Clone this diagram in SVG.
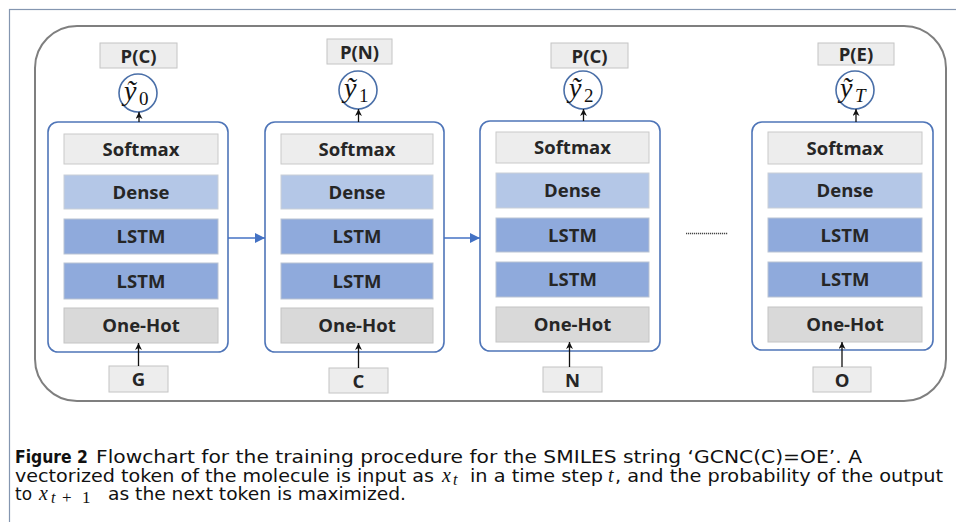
<svg xmlns="http://www.w3.org/2000/svg" width="956" height="522" viewBox="0 0 956 522">
<style>
.frame{fill:none;stroke:#8496b0;stroke-width:1.2}
.outer{fill:#fff;stroke:#7f7f7f;stroke-width:2}
.block{fill:#fff;stroke:#4f75b8;stroke-width:1.6}
.soft{fill:#ededed;stroke:#c9c9c9;stroke-width:1}
.dense{fill:#b4c7e7;stroke:#c9cfd8;stroke-width:1}
.lstm{fill:#8faadc;stroke:#b9c3d3;stroke-width:1}
.onehot{fill:#d9d9d9;stroke:#c4c4c4;stroke-width:1}
.tok{fill:#ededed;stroke:#c4c4c4;stroke-width:1}
.lbl{font-family:"Open Sans","Noto Sans",sans-serif;font-weight:700;font-size:18.5px;fill:#262626;text-anchor:middle}
.circ{fill:#fff;stroke:#4a6fa8;stroke-width:1.6}
.my{font-family:"Liberation Serif",serif;font-style:italic;font-size:28px;fill:#111}
.ms{font-family:"Liberation Serif",serif;font-size:19px;fill:#111}
.msi{font-family:"Liberation Serif",serif;font-style:italic;font-size:19px;fill:#111}
.blk{stroke:#111;stroke-width:1.3;fill:none}
.blu{stroke:#4472c4;stroke-width:1.6;fill:none}
.cap{font-family:"DejaVu Sans",sans-serif;font-size:17px;fill:#111}
.capm{font-family:"Liberation Serif",serif;font-style:italic;font-size:20px;fill:#111}
.caps{font-family:"Liberation Serif",serif;font-style:italic;font-size:16px;fill:#111}
.capsn{font-family:"Liberation Serif",serif;font-style:normal;font-size:17px;fill:#111}
</style>
<defs>
<marker id="ah" viewBox="0 0 10 10" refX="10" refY="5" markerWidth="7" markerHeight="7" markerUnits="userSpaceOnUse" orient="auto"><path d="M0,0 L10,5 L0,10 L3,5 z" fill="#111"/></marker>
<marker id="ab" viewBox="0 0 10 10" refX="10" refY="5" markerWidth="10" markerHeight="10" markerUnits="userSpaceOnUse" orient="auto"><path d="M0,0 L10,5 L0,10 z" fill="#4472c4"/></marker>
</defs>
<rect x="0" y="0" width="956" height="522" fill="#fff"/>
<rect class="frame" x="9.5" y="9.5" width="960" height="600"/>
<rect class="outer" x="35" y="26" width="911" height="375" rx="42"/>

<g id="block1" transform="translate(48,122)">
<rect class="block" x="0" y="0" width="180" height="230" rx="10"/>
<rect class="soft" x="16" y="12" width="154" height="30"/><text class="lbl" x="93" y="33.5">Softmax</text>
<rect class="dense" x="16" y="53" width="154" height="34"/><text class="lbl" x="93" y="76.5">Dense</text>
<rect class="lstm" x="16" y="97" width="154" height="35"/><text class="lbl" x="93" y="121">LSTM</text>
<rect class="lstm" x="16" y="141" width="154" height="36"/><text class="lbl" x="93" y="165.5">LSTM</text>
<rect class="onehot" x="16" y="186" width="154" height="35"/><text class="lbl" x="93" y="210">One-Hot</text>
</g>
<g id="block2" transform="translate(265,122)">
<rect class="block" x="0" y="0" width="179" height="230" rx="10"/>
<rect class="soft" x="16" y="12" width="152" height="30"/><text class="lbl" x="92" y="33.5">Softmax</text>
<rect class="dense" x="16" y="53" width="152" height="34"/><text class="lbl" x="92" y="76.5">Dense</text>
<rect class="lstm" x="16" y="97" width="152" height="35"/><text class="lbl" x="92" y="121">LSTM</text>
<rect class="lstm" x="16" y="141" width="152" height="36"/><text class="lbl" x="92" y="165.5">LSTM</text>
<rect class="onehot" x="16" y="186" width="152" height="35"/><text class="lbl" x="92" y="210">One-Hot</text>
</g>
<g id="block3" transform="translate(480,121)">
<rect class="block" x="0" y="0" width="180" height="230" rx="10"/>
<rect class="soft" x="16" y="11" width="153" height="31"/><text class="lbl" x="92.5" y="33">Softmax</text>
<rect class="dense" x="16" y="52" width="153" height="35"/><text class="lbl" x="92.5" y="76">Dense</text>
<rect class="lstm" x="16" y="97" width="153" height="34"/><text class="lbl" x="92.5" y="120.5">LSTM</text>
<rect class="lstm" x="16" y="141" width="153" height="35"/><text class="lbl" x="92.5" y="165">LSTM</text>
<rect class="onehot" x="16" y="186" width="153" height="35"/><text class="lbl" x="92.5" y="210">One-Hot</text>
</g>
<g id="block4" transform="translate(752,122)">
<rect class="block" x="0" y="0" width="181" height="228" rx="10"/>
<rect class="soft" x="16" y="10" width="154" height="32"/><text class="lbl" x="93" y="32.5">Softmax</text>
<rect class="dense" x="16" y="51" width="154" height="35"/><text class="lbl" x="93" y="75">Dense</text>
<rect class="lstm" x="16" y="96" width="154" height="34"/><text class="lbl" x="93" y="119.5">LSTM</text>
<rect class="lstm" x="16" y="140" width="154" height="35"/><text class="lbl" x="93" y="164">LSTM</text>
<rect class="onehot" x="16" y="185" width="154" height="35"/><text class="lbl" x="93" y="209">One-Hot</text>
</g>

<g id="in-G"><rect class="tok" x="109" y="366" width="59" height="26"/><text class="lbl" x="138.5" y="386">G</text></g>
<g id="in-C"><rect class="tok" x="329" y="368" width="59" height="25"/><text class="lbl" x="358.5" y="387.5">C</text></g>
<g id="in-N"><rect class="tok" x="543" y="367" width="59" height="25"/><text class="lbl" x="572.5" y="386.5">N</text></g>
<g id="in-O"><rect class="tok" x="813" y="367" width="58" height="25"/><text class="lbl" x="842" y="386.5">O</text></g>

<g id="out-PC0"><rect class="tok" x="100" y="43" width="77" height="25"/><text class="lbl" x="138.5" y="62.5">P(C)</text></g>
<g id="out-PN"><rect class="tok" x="327" y="39" width="65" height="25"/><text class="lbl" x="359.5" y="58.5">P(N)</text></g>
<g id="out-PC2"><rect class="tok" x="551" y="43" width="77" height="25"/><text class="lbl" x="589.5" y="62.5">P(C)</text></g>
<g id="out-PE"><rect class="tok" x="818" y="43" width="76" height="22"/><text class="lbl" x="856" y="61">P(E)</text></g>

<g id="y0"><circle class="circ" cx="138" cy="93" r="19"/><text class="my" x="124" y="100">ỹ</text><text class="ms" x="139" y="105">0</text></g>
<g id="y1"><circle class="circ" cx="358" cy="90" r="19"/><text class="my" x="344" y="97">ỹ</text><text class="ms" x="359" y="102">1</text></g>
<g id="y2"><circle class="circ" cx="583" cy="90" r="19"/><text class="my" x="569" y="97">ỹ</text><text class="ms" x="584" y="102">2</text></g>
<g id="yT"><circle class="circ" cx="855" cy="90" r="19"/><text class="my" x="840" y="97">ỹ</text><text class="msi" x="855" y="102">T</text></g>

<g id="connectors">
<line class="blk" x1="138.5" y1="366" x2="138.5" y2="343" marker-end="url(#ah)"/>
<line class="blk" x1="358.5" y1="368" x2="358.5" y2="343" marker-end="url(#ah)"/>
<line class="blk" x1="569.5" y1="367" x2="569.5" y2="342" marker-end="url(#ah)"/>
<line class="blk" x1="842" y1="367" x2="842" y2="342" marker-end="url(#ah)"/>
<line class="blk" x1="139" y1="122" x2="139" y2="112" marker-end="url(#ah)"/>
<line class="blk" x1="358.5" y1="122" x2="358.5" y2="109" marker-end="url(#ah)"/>
<line class="blk" x1="583.5" y1="121" x2="583.5" y2="109" marker-end="url(#ah)"/>
<line class="blk" x1="856" y1="122" x2="856" y2="109" marker-end="url(#ah)"/>
<line class="blu" x1="228" y1="238" x2="265" y2="238" marker-end="url(#ab)"/>
<line class="blu" x1="444" y1="238" x2="480" y2="238" marker-end="url(#ab)"/>
<line x1="686" y1="233.5" x2="728" y2="233.5" stroke="#444" stroke-width="1.3" stroke-dasharray="1.2 0.8"/>
</g>

<g id="caption">
<text class="cap" x="15" y="463" font-weight="700" textLength="73" lengthAdjust="spacingAndGlyphs">Figure 2</text>
<text class="cap" x="96" y="463" textLength="766" lengthAdjust="spacingAndGlyphs">Flowchart for the training procedure for the SMILES string ‘GCNC(C)=OE’. A</text>
<text class="cap" x="15" y="482" textLength="419" lengthAdjust="spacingAndGlyphs">vectorized token of the molecule is input as</text>
<text class="capm" x="442" y="482">x</text><text class="caps" x="453" y="485">t</text>
<text class="cap" x="470" y="482" textLength="133" lengthAdjust="spacingAndGlyphs">in a time step</text>
<text class="capm" x="608" y="482">t</text>
<text class="cap" x="615" y="482" textLength="328" lengthAdjust="spacingAndGlyphs">, and the probability of the output</text>
<text class="cap" x="15" y="500" textLength="17" lengthAdjust="spacingAndGlyphs">to</text>
<text class="capm" x="39" y="500">x</text>
<text class="caps" x="51" y="503">t</text><text class="capsn" x="62" y="503">+</text><text class="capsn" x="82" y="503">1</text>
<text class="cap" x="108" y="500" textLength="298" lengthAdjust="spacingAndGlyphs">as the next token is maximized.</text>
</g>
</svg>
